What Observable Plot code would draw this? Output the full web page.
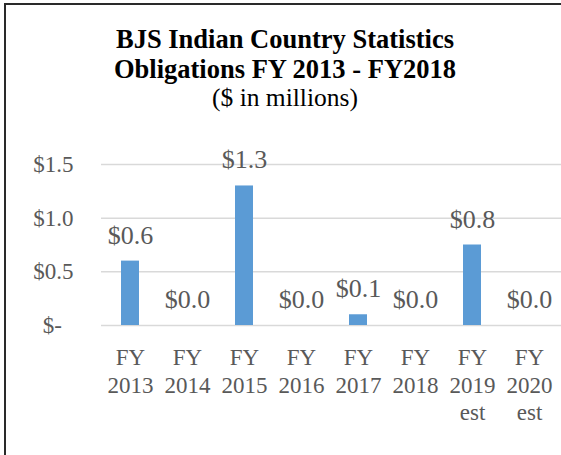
<!DOCTYPE html>
<html>
<head>
<meta charset="utf-8">
<script src="https://cdn.jsdelivr.net/npm/d3@7"></script>
<script src="https://cdn.jsdelivr.net/npm/@observablehq/plot@0.6"></script>
<style>
  html, body { margin: 0; padding: 0; background: #fff; overflow: hidden; }
  #wrap { position: relative; width: 561px; height: 455px; overflow: hidden; background: #fff; font-family: "Liberation Serif", "Times New Roman", serif; }
  #frame { position: absolute; left: 4px; top: 3px; width: 700px; height: 700px; border-left: 2px solid #2a2a2a; border-top: 2px solid #2a2a2a; box-sizing: border-box; }
  .title { position: absolute; left: 0; width: 570px; text-align: center; font-size: 26.5px; font-weight: bold; line-height: 30px; color: #000; white-space: nowrap; }
  .subtitle { position: absolute; left: 0; width: 570px; text-align: center; font-size: 25.5px; line-height: 26px; top: 84.7px; color: #000; }
  #chart { position: absolute; left: 0; top: 0; }
  #chart svg text { font-family: "Liberation Serif", "Times New Roman", serif; }
</style>
</head>
<body>
<div id="wrap">
  <div id="frame"></div>
  <div id="chart"></div>
  <div class="title" style="top:24.4px">BJS Indian Country Statistics</div>
  <div class="title" style="top:54.2px">Obligations FY 2013 - FY2018</div>
  <div class="subtitle">($ in millions)</div>
</div>
<script>
const categories = ["FY\n2013", "FY\n2014", "FY\n2015", "FY\n2016", "FY\n2017", "FY\n2018", "FY\n2019\nest", "FY\n2020\nest"];
const values = [0.6, 0.0, 1.3, 0.0, 0.1, 0.0, 0.75, 0.0];
const valueLabels = ["$0.6", "$0.0", "$1.3", "$0.0", "$0.1", "$0.0", "$0.8", "$0.0"];
const yTicks = [0, 0.5, 1.0, 1.5];
const yTickLabels = ["$-\u00a0\u00a0", "$0.5", "$1.0", "$1.5"];

const data = categories.map((c, i) => ({cat: c, value: values[i], label: valueLabels[i]}));
const serif = "Liberation Serif, Times New Roman, serif";

const chart = Plot.plot({
  width: 561,
  height: 455,
  marginLeft: 101,
  marginRight: 0,
  marginTop: 164,
  marginBottom: 130,
  style: {fontFamily: serif, color: "#595959", background: "transparent"},
  x: {domain: categories, range: [101, 558], paddingInner: 0.69, paddingOuter: 0.345, label: null},
  y: {domain: [0, 1.5], label: null},
  marks: [
    Plot.ruleY(yTicks, {stroke: "#d9d9d9", strokeWidth: 1.5}),
    Plot.barY(data, {x: "cat", y: "value", fill: "#5B9BD5"}),
    Plot.text(data, {x: "cat", y: "value", text: "label", lineAnchor: "bottom", dy: -17.5, fontSize: 26, fontFamily: serif, fill: "#595959"}),
    Plot.axisY({ticks: yTicks, tickFormat: d => yTickLabels[yTicks.indexOf(d)], tickSize: 0, tickPadding: 28, fontSize: 23, fontFamily: serif, label: null}),
    Plot.axisX({tickSize: 0, tickPadding: 20, fontSize: 23, fontFamily: serif, lineHeight: 1.2, label: null})
  ]
});
document.getElementById("chart").appendChild(chart);
</script>
</body>
</html>
